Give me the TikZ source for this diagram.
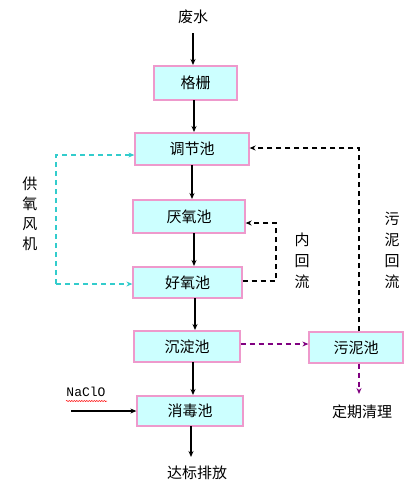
\documentclass[tikz,border=0pt]{standalone}
\usepackage{fontspec}
\setmonofont{Liberation Mono}
\newfontfamily\cjk{Noto Sans CJK SC}
\usetikzlibrary{arrows.meta,decorations.pathmorphing}
\definecolor{boxfill}{HTML}{CCFFFF}
\definecolor{boxline}{HTML}{EE99CC}
\definecolor{cyanline}{HTML}{33CCCC}
\definecolor{purpline}{HTML}{800080}
\tikzset{
  tank/.style={draw=boxline, line width=1.3pt, fill=boxfill, inner sep=0pt, font=\cjk\fontsize{15}{15}\selectfont},
  lbl/.style={inner sep=0pt, font=\cjk\fontsize{15}{15}\selectfont},
  flow/.style={line width=1.2pt, -{Stealth[length=6pt,width=5pt]}},
  dflow/.style={line width=1.2pt, dash pattern=on 5pt off 4pt, -{Stealth[length=6pt,width=5pt]}},
  dline/.style={line width=1.2pt, dash pattern=on 5pt off 4pt},
}
\begin{document}
\begin{tikzpicture}[x=1pt,y=-1pt]
\useasboundingbox (0,0) rectangle (418,499);
% nodes
\node[lbl] (in) at (193,17) {废水};
\node[tank, minimum width=83pt, minimum height=34pt] (gs) at (195.5,83) {格栅};
\node[tank, minimum width=114pt, minimum height=32pt] (tj) at (192,149) {调节池};
\node[tank, minimum width=112pt, minimum height=33pt] (yy) at (189,216.5) {厌氧池};
\node[tank, minimum width=109pt, minimum height=31pt] (hy) at (187.5,282.5) {好氧池};
\node[tank, minimum width=106pt, minimum height=31pt] (cd) at (187,346.5) {沉淀池};
\node[tank, minimum width=94pt, minimum height=31pt] (wn) at (356,347.5) {污泥池};
\node[tank, minimum width=106pt, minimum height=30pt] (xd) at (190,411) {消毒池};
\node[lbl] (out) at (197,473) {达标排放};
\node[lbl] (qc) at (362,412) {定期清理};
\node[inner sep=0pt, font=\ttfamily\fontsize{13}{13}\selectfont] (na) at (86,392) {NaClO};
\node[lbl, align=center, font=\cjk\fontsize{15}{20}\selectfont] (gy) at (30,214) {供\\氧\\风\\机};
\node[lbl, align=center, font=\cjk\fontsize{15}{21}\selectfont] (nh) at (302,261) {内\\回\\流};
\node[lbl, align=center, font=\cjk\fontsize{15}{21}\selectfont] (wh) at (392,250) {污\\泥\\回\\流};
% coordinates
\coordinate (nain) at (71,411);
\coordinate (cyT) at (56,155);
\coordinate (cyB) at (56,284);
\coordinate (nhT) at (276,223);
\coordinate (nhB) at (276,281);
\coordinate (whT) at (359,148);
\coordinate (qcEnd) at (359,394);
% main flow
\draw[flow] (in.south |- 0,33) -- (193,65);
\draw[flow] (194,100) -- (194,132);
\draw[flow] (192,165) -- (192,199);
\draw[flow] (194,233) -- (194,266);
\draw[flow] (195,298) -- (195,330);
\draw[flow] (193,362) -- (193,395);
\draw[flow] (191,426) -- (191,457);
\draw[flow] (nain) -- (xd.west |- nain);
\draw[red, line width=0.5pt, decorate, decoration={snake, amplitude=0.6pt, segment length=2.5pt}] (66,401) -- (107,401);
% air supply
\draw[dflow, cyanline] (cyB) -- (cyT) -- (tj.west |- cyT);
\draw[dflow, cyanline] (cyB) -- (hy.west |- cyB);
% internal recycle
\draw[dflow] (hy.east |- nhB) -- (nhB) -- (nhT) -- (yy.east |- nhT);
% sludge recycle
\draw[dflow] (wn.north -| whT) -- (whT) -- (tj.east |- whT);
% sludge
\draw[dflow, purpline] (cd.east |- 0,344) -- (wn.west |- 0,344);
\draw[dflow, purpline] (wn.south -| qcEnd) -- (qcEnd);
\end{tikzpicture}
\end{document}
